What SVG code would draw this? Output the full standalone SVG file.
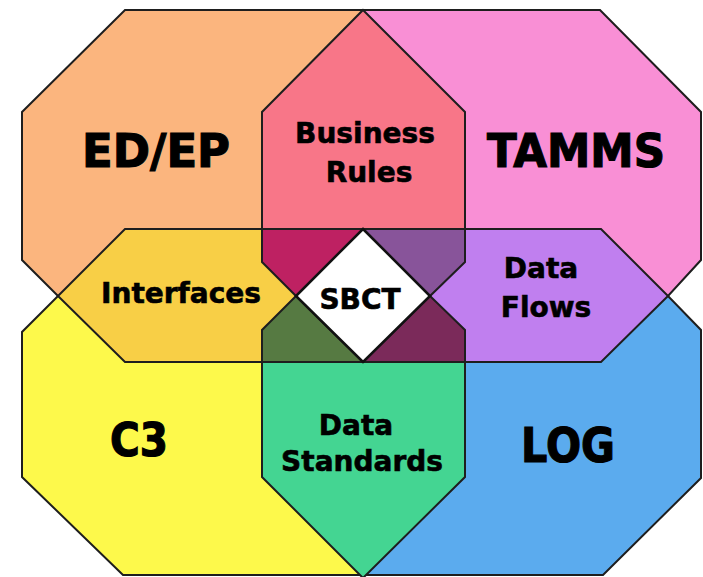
<svg xmlns="http://www.w3.org/2000/svg" width="703" height="577" viewBox="0 0 703 577">
<style>
.s{stroke:#1e1e1e;stroke-width:2;stroke-linejoin:miter}
.big{font-family:"DejaVu Sans","Liberation Sans",sans-serif;font-weight:bold;font-size:46px;fill:#000;stroke:#000;stroke-width:1.2}
.mid{font-family:"DejaVu Sans","Liberation Sans",sans-serif;font-weight:bold;font-size:28px;fill:#000;stroke:#000;stroke-width:0.6;text-anchor:middle}
</style>
<rect width="703" height="577" fill="#ffffff"/>
<g id="edep">
<polygon class="s" fill="#FBB57E" points="22,112 125,10 363,10 363,296 58,296 22,260"/>
</g>
<g id="tamms">
<polygon class="s" fill="#F98FD5" points="363,10 600,10 701,112 701,260 668,296 363,296"/>
</g>
<g id="c3">
<polygon class="s" fill="#FDF94B" points="363,296 58,296 22,332 22,477 123,575 363,575"/>
</g>
<g id="log">
<polygon class="s" fill="#5BABEE" points="363,296 668,296 701,330 701,478 603,575 363,575"/>
</g>
<g id="business-rules">
<polygon class="s" fill="#F87688" points="363,10 465,112 465,262 363,364 262,262 262,112"/>
</g>
<g id="data-standards">
<polygon class="s" fill="#44D592" points="363,229 465,330 465,477 363,578 262,477 262,330"/>
</g>
<g id="interfaces">
<polygon class="s" fill="#F8CF46" points="58,296 125,229 363,229 430,296 363,362 125,362"/>
</g>
<g id="data-flows">
<polygon class="s" fill="#C07FEF" points="296,296 363,229 601,229 668,296 601,362 363,362"/>
</g>
<g id="overlaps">
<polygon class="s" fill="#BE2162" points="262,229 363,229 296,296 262,262"/>
<polygon class="s" fill="#88549A" points="363,229 465,229 465,262 430,296"/>
<polygon class="s" fill="#567A42" points="296,296 262,330 262,362 363,362"/>
<polygon class="s" fill="#7B2A5A" points="430,296 465,330 465,362 363,362"/>
</g>
<g id="sbct">
<polygon fill="#ffffff" stroke="#111" stroke-width="2.5" points="363,229 430,296 363,362 296,296"/>
<text class="mid" x="360" y="309">SBCT</text>
</g>
<g id="labels">
<text class="big" x="82" y="167" textLength="148" lengthAdjust="spacingAndGlyphs">ED/EP</text>
<text class="big" x="487" y="167" textLength="178" lengthAdjust="spacingAndGlyphs">TAMMS</text>
<text class="big" x="110" y="456" textLength="58" lengthAdjust="spacingAndGlyphs">C3</text>
<text class="big" x="521" y="462" textLength="94" lengthAdjust="spacingAndGlyphs" style="font-size:48px">LOG</text>
<text class="mid" x="365" y="143">Business</text>
<text class="mid" x="369" y="182">Rules</text>
<text class="mid" x="181" y="303">Interfaces</text>
<text class="mid" x="541" y="278">Data</text>
<text class="mid" x="546" y="317">Flows</text>
<text class="mid" x="356" y="435">Data</text>
<text class="mid" x="362" y="471">Standards</text>
</g>
</svg>
